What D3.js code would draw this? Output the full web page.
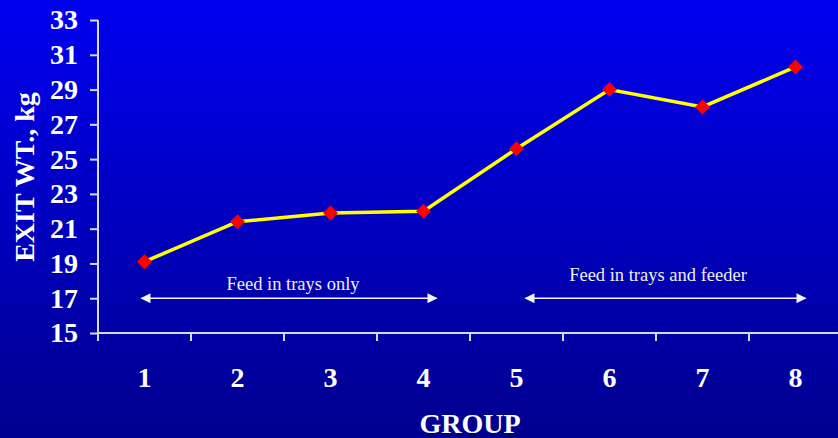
<!DOCTYPE html>
<meta charset="utf-8">
<style>
body { margin: 0; }
svg { display: block; }
.axis path, .axis line { stroke: #d8d8e8; stroke-width: 2; }
.axis text { fill: #fff; font-family: "Liberation Serif", "Times New Roman", serif; font-weight: bold; font-size: 28px; }
.title { fill: #fff; font-family: "Liberation Serif", "Times New Roman", serif; font-weight: bold; font-size: 28px; }
.note { fill: #eee; font-family: "Liberation Serif", "Times New Roman", serif; font-size: 18.5px; }
</style>
<body>
<svg id="chart"></svg>
<script src="https://cdnjs.cloudflare.com/ajax/libs/d3/7.8.5/d3.min.js"></script>
<script>

var groups = ["1", "2", "3", "4", "5", "6", "7", "8"];
var exitWt = [19.1, 21.4, 21.9, 22.0, 25.6, 29.0, 28.0, 30.3];
var yTicks = [15, 17, 19, 21, 23, 25, 27, 29, 31, 33];

// periods drawn as arrows at y = 17
var periods = [
  {label: "Feed in trays only", from: "1", to: "4"},
  {label: "Feed in trays and feeder", from: "5", to: "8"}
];

var width = 838, height = 438;

var svg = d3.select("#chart")
    .attr("width", width)
    .attr("height", height);

var defs = svg.append("defs");
var grad = defs.append("linearGradient")
    .attr("id", "bg")
    .attr("x1", 0).attr("y1", 0).attr("x2", 0).attr("y2", 1);
grad.append("stop").attr("offset", "0%").attr("stop-color", "#0000f0");
grad.append("stop").attr("offset", "100%").attr("stop-color", "#00008e");

defs.append("marker")
    .attr("id", "head")
    .attr("viewBox", "0 0 10 10")
    .attr("refX", 9).attr("refY", 5)
    .attr("markerUnits", "userSpaceOnUse")
    .attr("markerWidth", 11).attr("markerHeight", 10)
    .attr("orient", "auto-start-reverse")
  .append("path")
    .attr("d", "M0,0L10,5L0,10Z")
    .attr("fill", "#f4f4f4");

svg.append("rect")
    .attr("width", width).attr("height", height)
    .attr("fill", "url(#bg)");

var x = d3.scaleBand()
    .domain(groups)
    .range([98, 842]);

var y = d3.scaleLinear()
    .domain([15, 33])
    .range([333, 20]);

// y axis
svg.append("g")
    .attr("class", "axis")
    .attr("transform", "translate(98,0)")
    .call(d3.axisLeft(y).tickValues(yTicks).tickSize(8).tickSizeOuter(0).tickPadding(12))
    .call(function(g) { g.select(".domain").attr("d", "M0,20V341"); });

// x axis with ticks between categories
var xAxis = svg.append("g")
    .attr("class", "axis")
    .attr("transform", "translate(0,333)");
xAxis.append("line")
    .attr("x1", 98).attr("x2", width);
xAxis.selectAll(".sep")
    .data(groups.slice(1))
  .enter().append("line")
    .attr("x1", function(d) { return x(d); })
    .attr("x2", function(d) { return x(d); })
    .attr("y1", 0).attr("y2", 8);
xAxis.selectAll("text")
    .data(groups)
  .enter().append("text")
    .attr("x", function(d) { return x(d) + x.bandwidth() / 2; })
    .attr("y", 44)
    .attr("dy", "0.35em")
    .attr("text-anchor", "middle")
    .text(function(d) { return d; });

svg.append("text")
    .attr("class", "title")
    .attr("x", 470)
    .attr("y", 433)
    .attr("text-anchor", "middle")
    .text("GROUP");

svg.append("text")
    .attr("class", "title")
    .attr("transform", "translate(34,177) rotate(-90)")
    .attr("text-anchor", "middle")
    .text("EXIT WT., kg");

// period arrows
var cx = function(d) { return x(d) + x.bandwidth() / 2; };
var arr = svg.selectAll(".period")
    .data(periods)
  .enter().append("g")
    .attr("class", "period");
arr.append("line")
    .attr("x1", function(d, i) { return cx(d.from) + (i === 0 ? -3 : 9); })
    .attr("x2", function(d, i) { return cx(d.to) + (i === 0 ? 13 : 10); })
    .attr("y1", y(17)).attr("y2", y(17))
    .attr("stroke", "#f4f4f4")
    .attr("stroke-width", 1.5)
    .attr("marker-start", "url(#head)")
    .attr("marker-end", "url(#head)");
arr.append("text")
    .attr("class", "note")
    .attr("x", function(d, i) { return i === 0 ? 293 : 658; })
    .attr("y", function(d, i) { return i === 0 ? 290 : 281; })
    .attr("text-anchor", "middle")
    .text(function(d) { return d.label; });

// data line
var line = d3.line()
    .x(function(d, i) { return cx(groups[i]); })
    .y(function(d) { return y(d); });

svg.append("path")
    .datum(exitWt)
    .attr("d", line)
    .attr("fill", "none")
    .attr("stroke", "#ffff00")
    .attr("stroke-width", 3.5);

svg.selectAll(".pt")
    .data(exitWt)
  .enter().append("path")
    .attr("class", "pt")
    .attr("transform", function(d, i) { return "translate(" + cx(groups[i]) + "," + y(d) + ")"; })
    .attr("d", "M0,-7.5L7.5,0L0,7.5L-7.5,0Z")
    .attr("fill", "#ff0000");

</script>
</body>
